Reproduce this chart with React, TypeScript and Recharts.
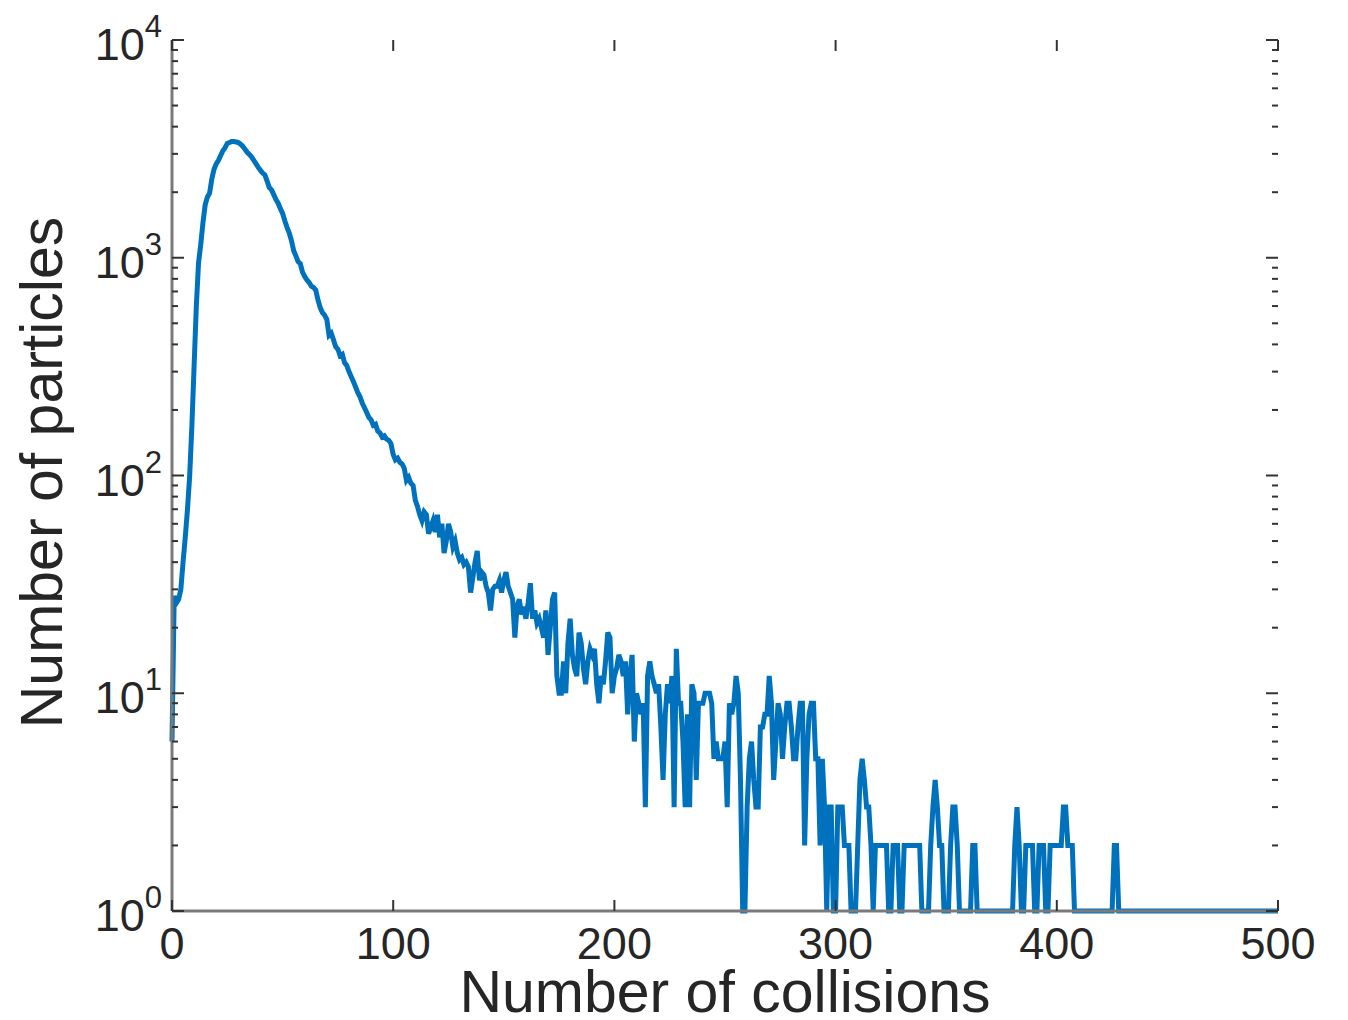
import { LineChart, Line, XAxis, YAxis, Label } from 'recharts';

// collision histogram, one count per collision number (0..500)
const counts0to99 = [
  6, 28, 26, 27, 30, 40, 52, 70, 100, 170,
  320, 600, 950, 1150, 1450, 1750, 1900, 1980, 2300, 2550,
  2700, 2800, 2950, 3100, 3200, 3350, 3380, 3420, 3420, 3400,
  3380, 3320, 3250, 3150, 3050, 2980, 2900, 2800, 2700, 2600,
  2520, 2450, 2400, 2250, 2100, 2050, 1950, 1850, 1780, 1680,
  1600, 1480, 1380, 1300, 1200, 1080, 1020, 960, 940, 860,
  820, 790, 770, 740, 730, 710, 640, 590, 560, 545,
  520, 440, 450, 420, 390, 380, 355, 360, 330, 320,
  300, 285, 270, 255, 240, 230, 215, 205, 195, 185,
  180, 170, 172, 160, 157, 150, 152, 147, 145, 140,
];
const counts100to199 = [
  125, 118, 120, 115, 113, 108, 95, 98, 92, 90,
  77, 72, 66, 62, 68, 66, 54, 58, 62, 55,
  66, 52, 60, 44, 50, 60, 55, 47, 50, 44,
  41, 42, 39, 40, 38, 29, 34, 40, 45, 33,
  36, 35, 31, 29, 24, 30, 31, 31, 33, 29,
  33, 36, 31, 29, 27, 18, 25, 27, 23, 25,
  22, 26, 32, 22, 24, 21, 22, 20, 18, 24,
  15, 20, 27, 29, 12, 10, 10, 14, 10, 17,
  22, 15, 13, 12, 19, 17, 13, 11, 14, 16,
  15, 16, 11, 9, 12, 11, 14, 19, 18, 10,
];
const counts200to299 = [
  12, 13, 15, 14, 12, 14, 8, 12, 15, 6,
  10, 9, 8, 9, 3, 12, 14, 12, 11, 10,
  11, 7, 4, 8, 11, 9, 12, 3, 16, 9,
  9, 6, 3, 8, 3, 11, 10, 4, 9, 9,
  9, 10, 10, 10, 9, 5, 6, 5, 5, 5,
  6, 3, 9, 8, 9, 12, 10, 4, 1, 1,
  3, 5, 6, 4, 3, 3, 7, 7, 8, 8,
  12, 9, 4, 6, 9, 8, 5, 7, 9, 9,
  7, 5, 5, 7, 9, 9, 2, 5, 8, 9,
  9, 5, 5, 2, 5, 3, 1, 3, 3, 1,
];
const counts300to399 = [
  1, 3, 3, 3, 2, 2, 2, 1, 1, 1,
  2, 4, 5, 4, 3, 3, 2, 1, 2, 2,
  2, 2, 2, 2, 1, 1, 2, 2, 2, 1,
  1, 2, 2, 2, 2, 2, 2, 2, 2, 1,
  1, 1, 1, 2, 3, 4, 3, 2, 2, 1,
  1, 1, 2, 3, 3, 2, 1, 1, 1, 1,
  1, 1, 2, 2, 1, 1, 1, 1, 1, 1,
  1, 1, 1, 1, 1, 1, 1, 1, 1, 1,
  1, 2, 3, 2, 1, 1, 2, 2, 2, 2,
  1, 1, 2, 2, 2, 1, 1, 2, 2, 2,
];
const counts400to500 = [
  2, 2, 2, 3, 3, 2, 2, 2, 1, 1,
  1, 1, 1, 1, 1, 1, 1, 1, 1, 1,
  1, 1, 1, 1, 1, 1, 2, 2, 1, 1,
  1, 1, 1, 1, 1, 1, 1, 1, 1, 1,
  1, 1, 1, 1, 1, 1, 1, 1, 1, 1,
  1, 1, 1, 1, 1, 1, 1, 1, 1, 1,
  1, 1, 1, 1, 1, 1, 1, 1, 1, 1,
  1, 1, 1, 1, 1, 1, 1, 1, 1, 1,
  1, 1, 1, 1, 1, 1, 1, 1, 1, 1,
  1, 1, 1, 1, 1, 1, 1, 1, 1, 1,
  1,
];

const xTicks = [0, 100, 200, 300, 400, 500];
const yMajorTicks = [1, 10, 100, 1000, 10000];
const yMinorFactors = [2, 3, 4, 5, 6, 7, 8, 9];

const counts = [...counts0to99, ...counts100to199, ...counts200to299, ...counts300to399, ...counts400to500];
const data = counts.map((count, n) => ({ n, count }));

const yTicks: number[] = [];
yMajorTicks.forEach((t, i) => {
  yTicks.push(t);
  if (i < yMajorTicks.length - 1) yMinorFactors.forEach((f) => yTicks.push(t * f));
});

const W = 1348;
const H = 1020;
const LEFT = 172;
const RIGHT = 1278;
const TOP = 40;
const BOTTOM = 911;

const FONT = '"Liberation Sans", Arial, Helvetica, sans-serif';
const TEXT = '#262626';
const FRAME = '#7a7a7a';
const TICK = '#333333';

function XTick({ x, payload }: any) {
  return (
    <g>
      <line x1={x} x2={x} y1={BOTTOM} y2={BOTTOM - 11} stroke={TICK} strokeWidth={2} />
      <line x1={x} x2={x} y1={TOP} y2={TOP + 11} stroke={TICK} strokeWidth={2} />
      <text x={x} y={BOTTOM + 48} textAnchor="middle" fontSize={45} fontFamily={FONT} fill={TEXT}>
        {payload.value}
      </text>
    </g>
  );
}

function YTick({ y, payload }: any) {
  const v = payload.value;
  const exp = Math.round(Math.log10(v));
  const major = Math.abs(Math.log10(v) - exp) < 1e-9;
  const len = major ? 12 : 6;
  return (
    <g>
      <line x1={LEFT} x2={LEFT + len} y1={y} y2={y} stroke={TICK} strokeWidth={2} />
      <line x1={RIGHT - len} x2={RIGHT} y1={y} y2={y} stroke={TICK} strokeWidth={2} />
      {major && (
        <text x={LEFT - 10} y={y + 20} textAnchor="end" fontSize={45} fontFamily={FONT} fill={TEXT}>
          10
          <tspan fontSize={31} dy={-23}>{exp}</tspan>
        </text>
      )}
    </g>
  );
}

function XTitle({ viewBox }: any) {
  return (
    <text x={viewBox.x + viewBox.width / 2} y={1012} textAnchor="middle" fontSize={59} fontFamily={FONT} fill={TEXT}>
      Number of collisions
    </text>
  );
}

function YTitle({ viewBox }: any) {
  const cy = viewBox.y + viewBox.height / 2 - 3;
  return (
    <text x={62} y={cy} transform={`rotate(-90, 62, ${cy})`} textAnchor="middle" fontSize={59} fontFamily={FONT} fill={TEXT}>
      Number of particles
    </text>
  );
}

export default function App() {
  return (
    <div style={{ position: 'absolute', left: 0, top: 0, width: W, height: H, background: '#fff' }}>
      <LineChart width={W} height={H} data={data} margin={{ top: TOP, right: W - RIGHT, bottom: 0, left: 0 }}>
        <XAxis
          dataKey="n"
          type="number"
          domain={[0, 500]}
          ticks={xTicks}
          interval={0}
          height={H - BOTTOM}
          axisLine={{ stroke: FRAME, strokeWidth: 3 }}
          tickLine={false}
          tick={XTick}
        >
          <Label content={XTitle} />
        </XAxis>
        <XAxis
          xAxisId="top"
          orientation="top"
          type="number"
          domain={[0, 500]}
          height={0}
          axisLine={{ stroke: FRAME, strokeWidth: 3 }}
          tickLine={false}
          tick={false}
        />
        <YAxis
          scale="log"
          type="number"
          domain={[1, 10000]}
          ticks={yTicks}
          interval={0}
          width={LEFT}
          axisLine={{ stroke: FRAME, strokeWidth: 3 }}
          tickLine={false}
          tick={YTick}
        >
          <Label content={YTitle} />
        </YAxis>
        <YAxis
          yAxisId="right"
          orientation="right"
          scale="log"
          type="number"
          domain={[1, 10000]}
          width={0}
          axisLine={{ stroke: FRAME, strokeWidth: 3 }}
          tickLine={false}
          tick={false}
        />
        <Line
          type="linear"
          dataKey="count"
          stroke="#0072BD"
          strokeWidth={5}
          dot={false}
          isAnimationActive={false}
        />
      </LineChart>
    </div>
  );
}
